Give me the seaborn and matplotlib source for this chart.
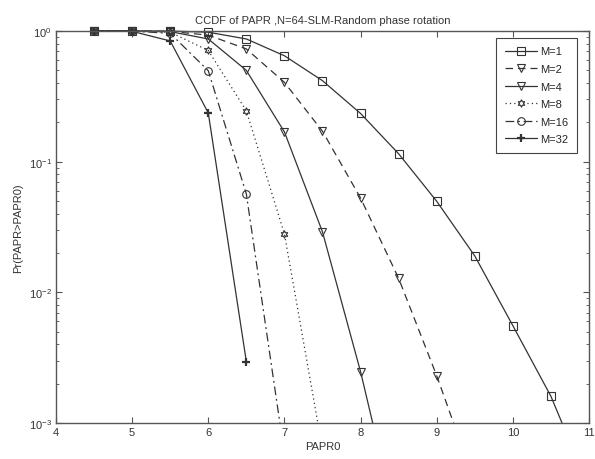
import numpy as np
import pandas as pd
import matplotlib
matplotlib.use("Agg")
import matplotlib.pyplot as plt
from matplotlib.patches import Rectangle
import seaborn as sns

# PAPR0 grid and CCDF values
papr0 = [4.5, 5.0, 5.5, 6.0, 6.5, 7.0, 7.5, 8.0, 8.5, 9.0, 9.5, 10.0, 10.5, 11.0]
ccdf_m1 = [1.0, 1.0, 1.0, 0.98, 0.87, 0.647, 0.417, 0.234, 0.115, 0.0498, 0.019, 0.00556, 0.0016, 0.00032]
ccdf_m2 = [1.0, 1.0, 0.995, 0.93, 0.73, 0.405, 0.171, 0.0527, 0.0128, 0.0023, 0.00035]
ccdf_m4 = [1.0, 1.0, 0.99, 0.87, 0.50, 0.169, 0.029, 0.00247, 0.000145]
ccdf_m8 = [1.0, 1.0, 0.98, 0.71, 0.245, 0.028, 0.00063]
ccdf_m16 = [1.0, 1.0, 0.96, 0.497, 0.0566, 0.00058]
ccdf_m32 = [1.0, 0.995, 0.84, 0.236, 0.00295]

labels = ["M=1", "M=2", "M=4", "M=8", "M=16", "M=32"]
series = [ccdf_m1, ccdf_m2, ccdf_m4, ccdf_m8, ccdf_m16, ccdf_m32]
styles = ["-", (0, (6, 4)), "-", (0, (1, 2.5)), (0, (7, 3, 1.5, 3)), "-"]
markers = ["s", "v", "v", (6, 1, 0), "o", "+"]

sns.set_style("ticks")
plt.rcParams["font.family"] = ["Liberation Sans", "DejaVu Sans"]
plt.rcParams.update({
    "font.size": 8,
    "xtick.direction": "in", "ytick.direction": "in",
    "xtick.top": True, "ytick.right": True,
    "xtick.minor.visible": False,
    "axes.edgecolor": "#555555",
    "xtick.color": "#555555", "ytick.color": "#555555",
    "xtick.labelcolor": "#333333", "ytick.labelcolor": "#333333",
    "axes.labelcolor": "#333333",
    "mathtext.default": "regular",
})

fig = plt.figure(figsize=(5.95, 4.6), dpi=100)
ax = fig.add_axes([0.0941, 0.0783, 0.8958, 0.852])

line_col = "#333333"
for lab, vals, ls, mk in zip(labels, series, styles, markers):
    df = pd.DataFrame({"PAPR0": papr0[:len(vals)], "ccdf": vals})
    mew = 1.6 if mk == "+" else 0.8
    sns.lineplot(data=df, x="PAPR0", y="ccdf", ax=ax, estimator=None, sort=False,
                 color=line_col, linestyle=ls, linewidth=0.9, marker=mk,
                 markersize=5.5, markerfacecolor="none" if mk != "+" else line_col,
                 markeredgecolor=line_col, markeredgewidth=mew, label=lab)

# let markers sitting on the top edge show fully, keep the bottom clipped
clip = Rectangle((-0.02, 0), 1.04, 1.04, transform=ax.transAxes)
for ln in ax.get_lines():
    ln.set_clip_path(clip)

ax.set_yscale("log")
ax.set_xlim(4, 11)
ax.set_ylim(1e-3, 1)
ax.set_xticks(range(4, 12))
ax.tick_params(which="major", length=4, width=0.8, pad=3)
ax.tick_params(which="minor", length=2.5, width=0.6)
ax.set_xlabel("PAPR0", labelpad=3)
ax.set_ylabel("Pr(PAPR>PAPR0)", labelpad=4)
ax.set_title("CCDF of PAPR ,N=64-SLM-Random phase rotation", fontsize=8, pad=6,
             color="#333333")
for s in ax.spines.values():
    s.set_linewidth(1.0)

leg = ax.legend(loc="upper right", bbox_to_anchor=(0.977, 0.982), borderaxespad=0,
                fancybox=False, framealpha=1, edgecolor="#444444",
                handlelength=2.9, labelspacing=0.68, handletextpad=0.3,
                borderpad=0.75, fontsize=8)
leg.get_frame().set_linewidth(0.8)

fig.savefig("out.png", dpi=100)
